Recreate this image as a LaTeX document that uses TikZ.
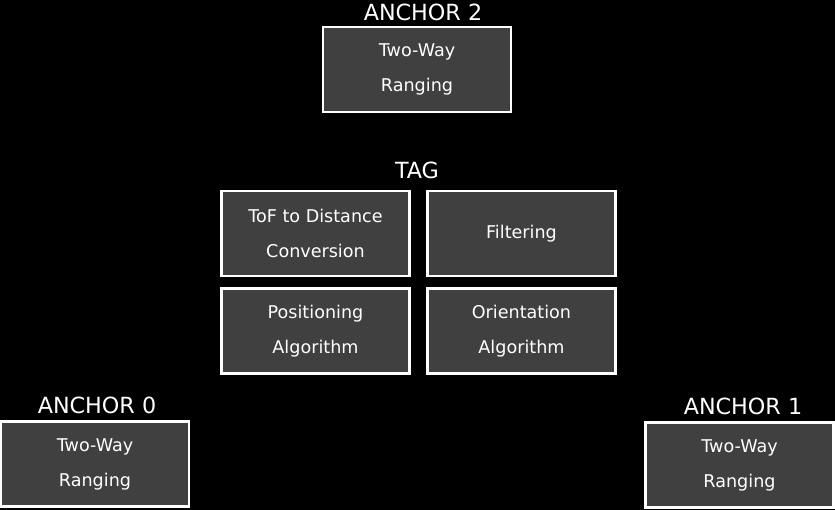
\documentclass[tikz,border=0pt]{standalone}
\usepackage{fontspec}
\setmainfont{DejaVu Sans}
\usetikzlibrary{positioning}
\definecolor{boxgray}{HTML}{404040}
\tikzset{
  unitbox/.style={draw=white, line width=2.2pt, fill=boxgray, text=white, align=center,
    minimum width=5.64cm, minimum height=2.55cm, inner sep=2pt,
    font=\fontsize{15}{30}\selectfont},
  title/.style={text=white, inner sep=0pt, font=\fontsize{19}{22}\selectfont}
}
\begin{document}
\begin{tikzpicture}[x=0.03cm, y=-0.03cm]
\fill[black] (0,0) rectangle (835,510);
\useasboundingbox (0,0) rectangle (835,510);

\node (a2) at (417,69.5) [unitbox] {Two-Way\\Ranging};
\node (a2t) at (423,12) [title] {ANCHOR 2};

\node (tag) at (417,170) [title] {TAG};
\node (tof) at (315.5,233.5) [unitbox] {ToF to Distance\\Conversion};
\node (filt) at (521.5,233.5) [unitbox] {Filtering};
\node (pos) at (315.5,331) [unitbox] {Positioning\\Algorithm};
\node (ori) at (521.5,331) [unitbox] {Orientation\\Algorithm};

\node (a0) at (95,464) [unitbox] {Two-Way\\Ranging};
\node (a0t) at (97,405) [title] {ANCHOR 0};

\node (a1) at (739.5,465) [unitbox] {Two-Way\\Ranging};
\node (a1t) at (743,406) [title] {ANCHOR 1};
\end{tikzpicture}
\end{document}
